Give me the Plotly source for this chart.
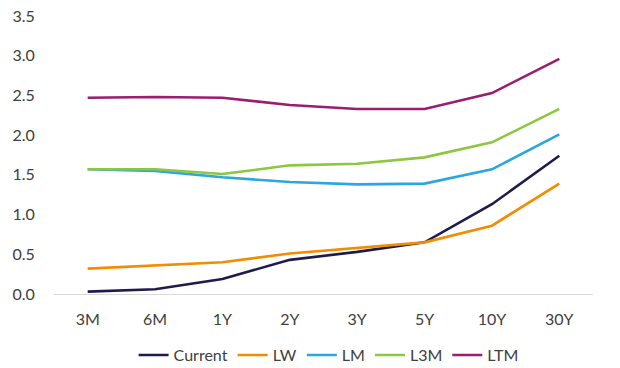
import plotly.graph_objects as go

tenors = ["3M", "6M", "1Y", "2Y", "3Y", "5Y", "10Y", "30Y"]
current = [0.03, 0.06, 0.19, 0.43, 0.53, 0.65, 1.13, 1.74]
lw = [0.32, 0.36, 0.40, 0.51, 0.58, 0.65, 0.86, 1.39]
lm = [1.57, 1.55, 1.47, 1.41, 1.38, 1.39, 1.57, 2.01]
l3m = [1.57, 1.57, 1.51, 1.62, 1.64, 1.72, 1.91, 2.33]
ltm = [2.47, 2.48, 2.47, 2.38, 2.33, 2.33, 2.53, 2.96]
y_ticks = [0.0, 0.5, 1.0, 1.5, 2.0, 2.5, 3.0, 3.5]

series = [
    ("Current", current, "#1f1b4d"),
    ("LW", lw, "#f28c00"),
    ("LM", lm, "#2aa7e1"),
    ("L3M", l3m, "#8dc63f"),
    ("LTM", ltm, "#9c1c6f"),
]

fig = go.Figure()
for name, vals, color in series:
    fig.add_trace(go.Scatter(x=tenors, y=vals, name=name, mode="lines",
                             line=dict(color=color, width=2.6)))

font = dict(family="Lato, Carlito, Calibri, sans-serif", size=16, color="#404040")
fig.update_layout(
    width=620, height=368,
    margin=dict(l=54, r=27, t=16, b=74),
    paper_bgcolor="white", plot_bgcolor="white",
    font=font,
    showlegend=True,
    legend=dict(orientation="h", xref="container", yref="container",
                x=0.53, xanchor="center", y=0.035, yanchor="middle",
                font=font, tracegroupgap=0),
    xaxis=dict(type="category", showgrid=False, showline=False, zeroline=False,
               ticks="outside", ticklen=11, tickcolor="rgba(0,0,0,0)",
               tickfont=font, range=[-0.5, 7.5], automargin=False),
    yaxis=dict(range=[0, 3.5], tickvals=y_ticks, ticktext=[f"{v:.1f}" for v in y_ticks],
               showgrid=False, zeroline=True, zerolinecolor="#d9d9d9", zerolinewidth=1,
               showline=False, ticks="outside", ticklen=15, tickcolor="rgba(0,0,0,0)",
               tickfont=font, automargin=False),
)
fig.write_html("out.html")
